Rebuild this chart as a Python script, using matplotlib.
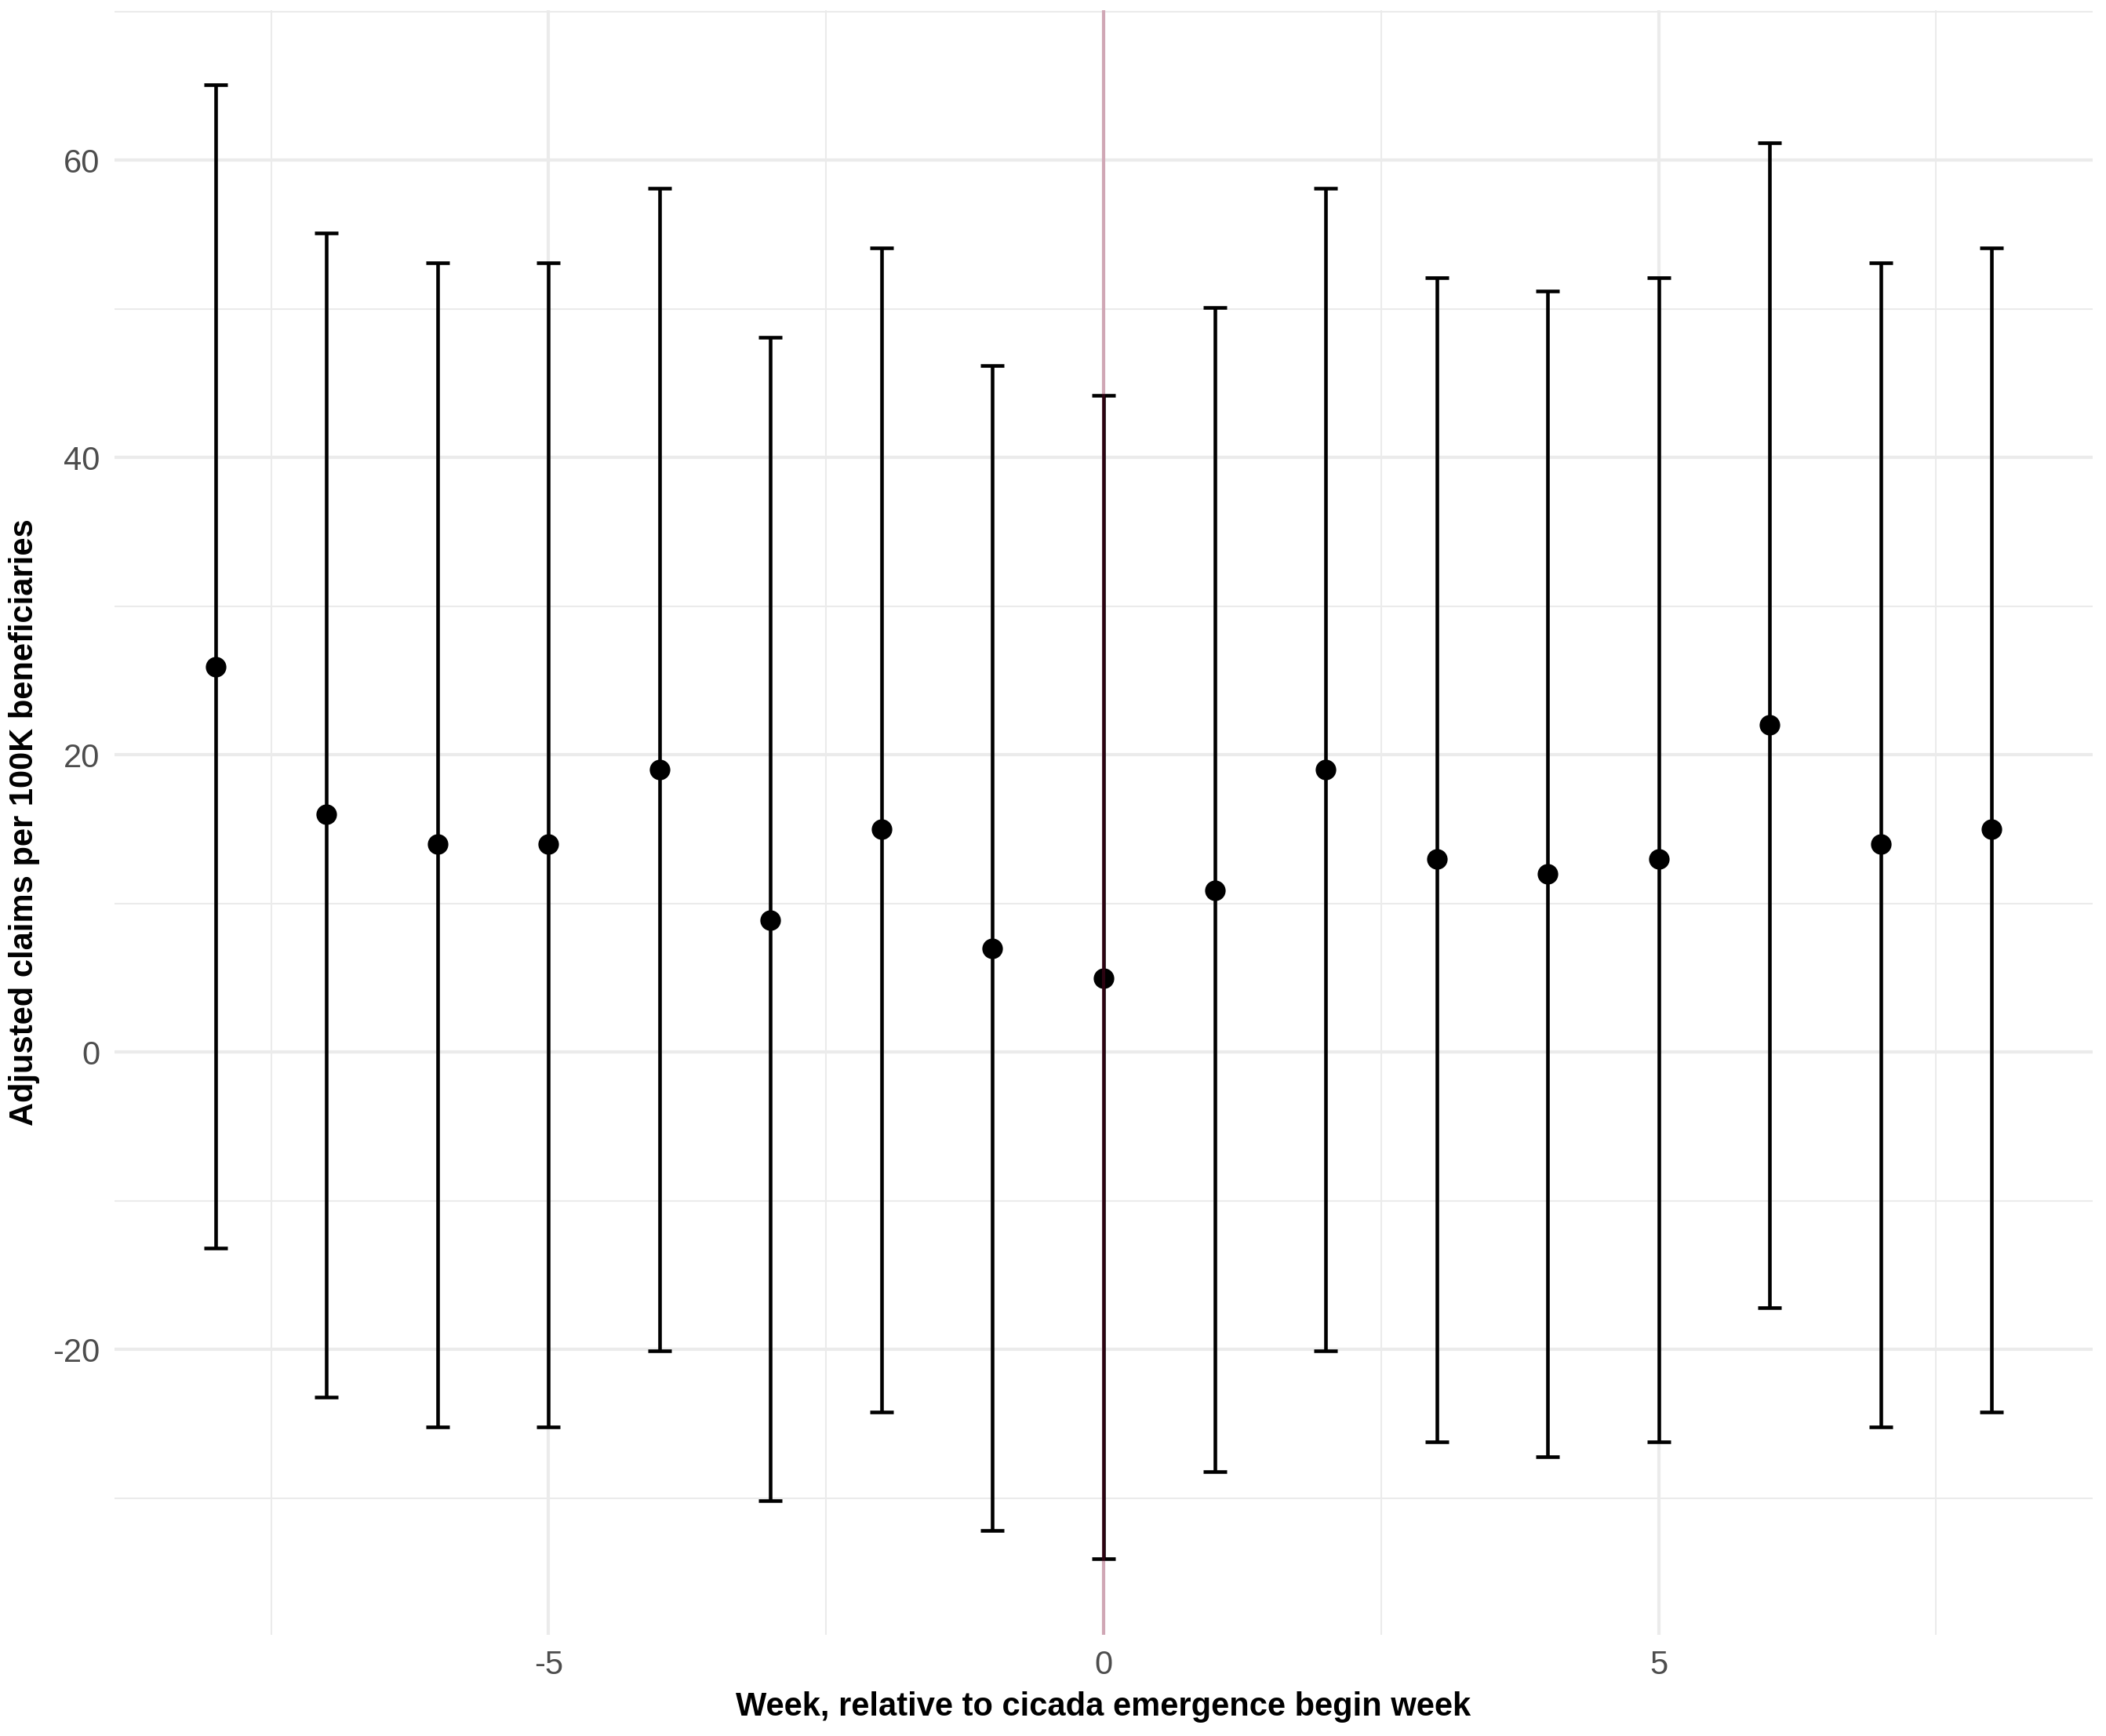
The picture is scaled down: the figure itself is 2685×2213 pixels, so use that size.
import matplotlib; matplotlib.use("Agg")
import matplotlib.pyplot as plt
from matplotlib.ticker import MultipleLocator

weeks = [-8, -7, -6, -5, -4, -3, -2, -1, 0, 1, 2, 3, 4, 5, 6, 7, 8]
est = [25.9, 16.0, 14.0, 14.0, 19.0, 8.9, 15.0, 7.0, 5.0, 10.9, 19.0, 13.0, 12.0, 13.0, 22.0, 14.0, 15.0]
lo = [-13.2, -23.2, -25.2, -25.2, -20.1, -30.2, -24.2, -32.2, -34.1, -28.2, -20.1, -26.2, -27.2, -26.2, -17.2, -25.2, -24.2]
hi = [65.1, 55.1, 53.1, 53.1, 58.1, 48.1, 54.1, 46.2, 44.2, 50.1, 58.1, 52.1, 51.2, 52.1, 61.2, 53.1, 54.1]

plt.rcParams["font.family"] = ["Liberation Sans", "DejaVu Sans"]
plt.rcParams["axes.unicode_minus"] = False

fig = plt.figure(figsize=(2685 / 300, 2213 / 300), dpi=300)
ax = fig.add_axes([146 / 2685, 1 - 2084 / 2213, (2668 - 146) / 2685, (2084 - 13) / 2213])

yerr = [[e - l for e, l in zip(est, lo)], [h - e for e, h in zip(est, hi)]]
ax.errorbar(weeks, est, yerr=yerr, fmt="none", ecolor="black", elinewidth=1.1,
            capsize=3.5, capthick=1.1, zorder=3)
ax.scatter(weeks, est, s=28, color="black", zorder=4)
ax.axvline(0, color="#940c3a", alpha=0.3, lw=1.0, zorder=5)

ax.set_xlim(-8.91, 8.91)
ax.set_ylim(-39.2, 70.1)
ax.xaxis.set_major_locator(MultipleLocator(5))
ax.xaxis.set_minor_locator(MultipleLocator(2.5))
ax.yaxis.set_major_locator(MultipleLocator(20))
ax.yaxis.set_minor_locator(MultipleLocator(10))
ax.grid(which="major", color="#ebebeb", lw=1.0)
ax.grid(which="minor", color="#ebebeb", lw=0.5)
ax.set_axisbelow(True)
for s in ax.spines.values():
    s.set_visible(False)
ax.tick_params(which="both", length=0, labelsize=10, labelcolor="#4d4d4d", pad=4.5)

ax.set_xlabel("Week, relative to cicada emergence begin week", fontsize=10, fontweight="bold", labelpad=3.3)
ax.set_ylabel("Adjusted claims per 100K beneficiaries", fontsize=10, fontweight="bold", labelpad=3.8)

fig.savefig("out.png", dpi=300)
